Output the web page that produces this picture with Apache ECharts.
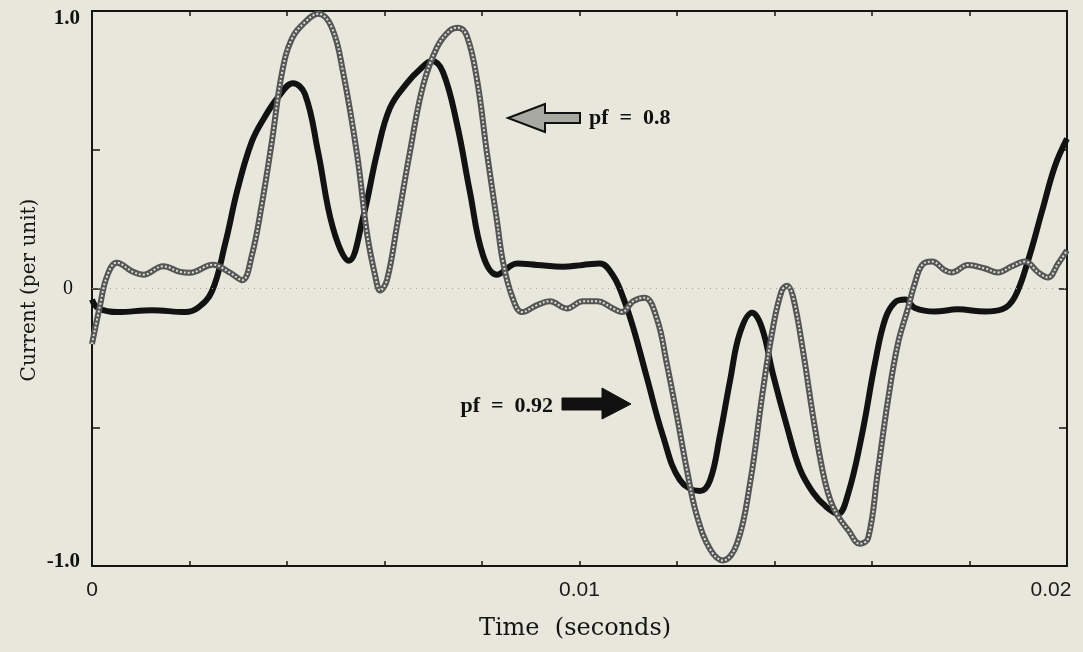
<!DOCTYPE html>
<html>
<head>
<meta charset="utf-8">
<script src="https://cdn.jsdelivr.net/npm/echarts@6/dist/echarts.min.js"></script>
<style>
  html, body { margin: 0; padding: 0; background: #e8e7dc; }
  #chart { width: 1083px; height: 652px; }
</style>
</head>
<body>
<div id="chart"></div>
<script>
// Line current over one cycle, two power-factor cases (time in seconds, current in per unit)
const pf92Time = [0, 0.00012, 0.00053, 0.00123, 0.00191, 0.00217, 0.00246, 0.00273, 0.00299, 0.00328,
  0.00355, 0.00382, 0.00412, 0.00437, 0.00464, 0.00494, 0.00527, 0.00556, 0.00585, 0.00611,
  0.00646, 0.00673, 0.00697, 0.00720, 0.00749, 0.00775, 0.00802, 0.00831, 0.00872, 0.00913,
  0.00966, 0.01007, 0.01042, 0.01069, 0.01089, 0.01110, 0.01138, 0.01171, 0.01206, 0.01247,
  0.01268, 0.01288, 0.01309, 0.01329, 0.01354, 0.01374, 0.01397, 0.01426, 0.01452, 0.01479,
  0.01505, 0.01530, 0.01551, 0.01579, 0.01606, 0.01627, 0.01647, 0.01668, 0.01688, 0.01729,
  0.01776, 0.01832, 0.01867, 0.01893, 0.01920, 0.01949, 0.01975, 0.02];
const pf92Current = [-0.04, -0.07, -0.085, -0.078, -0.085, -0.07, -0.01, 0.16, 0.36, 0.53,
  0.62, 0.69, 0.74, 0.70, 0.49, 0.22, 0.10, 0.255, 0.49, 0.65,
  0.74, 0.79, 0.82, 0.78, 0.59, 0.35, 0.12, 0.05, 0.09, 0.085,
  0.078, 0.085, 0.09, 0.046, -0.03, -0.14, -0.32, -0.53, -0.69, -0.73,
  -0.69, -0.53, -0.33, -0.16, -0.087, -0.14, -0.31, -0.50, -0.65, -0.735,
  -0.785, -0.812, -0.74, -0.53, -0.27, -0.11, -0.05, -0.04, -0.07, -0.083,
  -0.075, -0.083, -0.075, -0.03, 0.10, 0.28, 0.44, 0.54];

const pf80Time = [0, 0.00016, 0.00031, 0.00051, 0.00084, 0.00105, 0.00146, 0.00181, 0.00201, 0.00248,
  0.00283, 0.00308, 0.00328, 0.00349, 0.00369, 0.00390, 0.00410, 0.00437, 0.00464, 0.00492,
  0.00515, 0.00544, 0.00564, 0.00581, 0.00591, 0.00605, 0.00626, 0.00652, 0.00679, 0.00708,
  0.00734, 0.00751, 0.00769, 0.00790, 0.00810, 0.00831, 0.00843, 0.00862, 0.00882, 0.00913,
  0.00939, 0.00974, 0.01007, 0.01036, 0.01069, 0.01087, 0.01110, 0.01134, 0.01159, 0.01179,
  0.01200, 0.01221, 0.01241, 0.01268, 0.01294, 0.01323, 0.01350, 0.01376, 0.01397, 0.01415,
  0.01426, 0.01438, 0.01458, 0.01479, 0.01499, 0.01514, 0.01530, 0.01551, 0.01575, 0.01592,
  0.01612, 0.01633, 0.01653, 0.01674, 0.01688, 0.01703, 0.01723, 0.01750, 0.01764, 0.01797,
  0.01832, 0.01858, 0.01887, 0.01914, 0.01941, 0.01961, 0.01982, 0.02];
const pf80Current = [-0.20, -0.065, 0.045, 0.093, 0.06, 0.05, 0.08, 0.06, 0.057, 0.086,
  0.057, 0.03, 0.12, 0.31, 0.53, 0.78, 0.90, 0.96, 0.99, 0.94,
  0.78, 0.48, 0.20, 0.045, -0.007, 0.03, 0.23, 0.49, 0.73, 0.87,
  0.93, 0.94, 0.91, 0.75, 0.49, 0.24, 0.097, -0.03, -0.085, -0.06,
  -0.046, -0.072, -0.046, -0.046, -0.072, -0.085, -0.046, -0.033, -0.11, -0.27,
  -0.46, -0.66, -0.82, -0.94, -0.98, -0.92, -0.70, -0.37, -0.14, -0.007,
  0.01, -0.03, -0.22, -0.46, -0.66, -0.76, -0.82, -0.87, -0.92, -0.90,
  -0.66, -0.40, -0.20, -0.07, 0.02, 0.085, 0.097, 0.065, 0.058, 0.085,
  0.072, 0.058, 0.08, 0.097, 0.058, 0.04, 0.09, 0.137];

// Tick labels shown on the axes (other ticks are unlabelled)
const xTickLabels = { '0': '0', '0.01': '0.01', '0.02': '0.02' };
const yTickLabels = { '1': '1.0', '0': '0', '-1': '-1.0' };

const pair = (ts, vs) => ts.map((t, i) => [t, vs[i]]);
const pf92Data = pair(pf92Time, pf92Current);
const pf80Data = pair(pf80Time, pf80Current);

const ink = '#151515';
const serifBold = '"Liberation Serif", "Times New Roman", serif';
const serif = '"DejaVu Serif", "Liberation Serif", serif';

// every side of the frame is a full axis line, never pulled to zero
const frameAxis = {
  axisLine: { show: true, onZero: false, lineStyle: { color: ink, width: 2 } },
  splitLine: { show: false }
};

const chart = echarts.init(document.getElementById('chart'), null, { renderer: 'canvas' });

chart.setOption({
  backgroundColor: '#e8e7dc',
  animation: false,
  grid: { left: 92, right: 16, top: 11, bottom: 86, containLabel: false },
  xAxis: [
    Object.assign({
      type: 'value', min: 0, max: 0.02, interval: 0.002, position: 'bottom',
      axisTick: { show: true, inside: true, length: 5, lineStyle: { color: ink, width: 1.5 } },
      axisLabel: {
        show: true, margin: 14, showMaxLabel: true, showMinLabel: true,
        color: '#1a1a1a', fontFamily: '"Liberation Sans", Arial, sans-serif', fontSize: 21,
        formatter: function (v) {
          const key = String(Math.round(v * 1000) / 1000);
          if (!(key in xTickLabels) || Math.abs(v * 1000 - Math.round(v * 1000)) > 1e-6) return '';
          return key === '0.02' ? '{r|' + xTickLabels[key] + '}' : xTickLabels[key];
        },
        rich: { r: { fontFamily: '"Liberation Sans", Arial, sans-serif', fontSize: 21, color: '#1a1a1a', padding: [0, 32, 0, 0] } }
      }
    }, frameAxis),
    Object.assign({
      type: 'value', min: 0, max: 0.02, interval: 0.002, position: 'top',
      axisTick: { show: true, inside: true, length: 5, lineStyle: { color: ink, width: 1.5 } },
      axisLabel: { show: false }
    }, frameAxis)
  ],
  yAxis: [
    Object.assign({
      type: 'value', min: -1, max: 1, interval: 0.5, position: 'left',
      axisTick: { show: true, inside: true, length: 8, lineStyle: { color: ink, width: 1.5 } },
      axisLabel: {
        show: true, margin: 12, showMaxLabel: true, showMinLabel: true,
        color: '#111', fontFamily: serifBold, fontWeight: 'bold', fontSize: 21,
        formatter: function (v) {
          const key = String(v);
          if (!(key in yTickLabels)) return '';
          if (v === 1) return '{t|' + yTickLabels[key] + '}';
          if (v === -1) return '{b|' + yTickLabels[key] + '}';
          return '{z|' + yTickLabels[key] + '}';
        },
        rich: {
          t: { fontFamily: serifBold, fontWeight: 'bold', fontSize: 21, color: '#111', padding: [15, 0, 0, 0] },
          b: { fontFamily: serifBold, fontWeight: 'bold', fontSize: 21, color: '#111', padding: [0, 0, 8, 0] },
          z: { fontFamily: serifBold, fontWeight: 'normal', fontSize: 20, color: '#111', padding: [0, 7, 0, 0] }
        }
      }
    }, frameAxis),
    Object.assign({
      type: 'value', min: -1, max: 1, interval: 0.5, position: 'right',
      axisTick: { show: true, inside: true, length: 8, lineStyle: { color: ink, width: 1.5 } },
      axisLabel: { show: false }
    }, frameAxis)
  ],
  series: [
    {
      name: 'pf = 0.92', type: 'line', data: pf92Data, showSymbol: false, smooth: 0.4,
      lineStyle: { color: '#121212', width: 6 }, z: 3,
      markLine: {
        silent: true, symbol: 'none', label: { show: false },
        lineStyle: { color: '#a4a49c', width: 1, type: [1, 5] },
        data: [{ yAxis: 0 }]
      }
    },
    {
      name: 'pf = 0.8', type: 'line', data: pf80Data, showSymbol: false, smooth: 0.4,
      lineStyle: { color: '#555555', width: 6 }, z: 4
    },
    {
      name: 'pf = 0.8 chain', type: 'line', data: pf80Data, showSymbol: false, smooth: 0.4,
      lineStyle: { color: '#dcdcd6', width: 2, type: [2, 2] }, z: 5
    }
  ],
  graphic: [
    // annotation for pf = 0.8: stippled hollow arrow pointing left
    {
      type: 'polygon', z: 10,
      shape: { points: [[508, 118], [545, 104], [545, 113], [580, 113], [580, 123], [545, 123], [545, 132]] },
      style: { fill: '#a9a9a4', stroke: '#111', lineWidth: 2 }
    },
    {
      type: 'text', z: 10, x: 589, y: 118,
      style: { text: 'pf  =  0.8', font: 'bold 22px ' + serifBold, fill: '#111', textAlign: 'left', textVerticalAlign: 'middle' }
    },
    // annotation for pf = 0.92: solid arrow pointing right
    {
      type: 'polygon', z: 10,
      shape: { points: [[562, 398], [602, 398], [602, 388], [631, 404], [602, 419], [602, 410], [562, 410]] },
      style: { fill: '#111', stroke: '#111', lineWidth: 1 }
    },
    {
      type: 'text', z: 10, x: 553, y: 406,
      style: { text: 'pf  =  0.92', font: 'bold 22px ' + serifBold, fill: '#111', textAlign: 'right', textVerticalAlign: 'middle' }
    },
    // axis titles
    {
      type: 'text', z: 10, x: 575, y: 629,
      style: { text: 'Time  (seconds)', font: '24px ' + serif, fill: '#151515', textAlign: 'center', textVerticalAlign: 'middle' }
    },
    {
      type: 'text', z: 10, x: 30, y: 290, rotation: Math.PI / 2,
      style: { text: 'Current (per unit)', font: '20px ' + serif, fill: '#151515', textAlign: 'center', textVerticalAlign: 'middle' }
    }
  ]
});
</script>
</body>
</html>
